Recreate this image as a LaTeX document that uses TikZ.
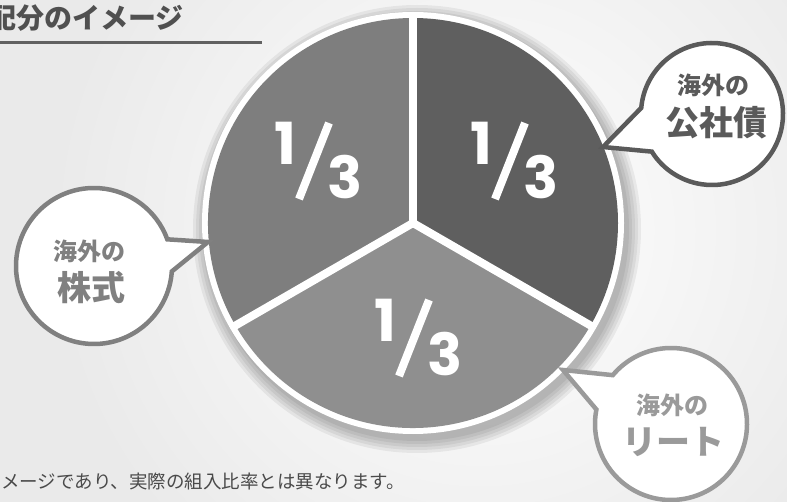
\documentclass[tikz,border=0pt]{standalone}
\usepackage{fontspec}
\usetikzlibrary{calc}
\newfontfamily\jp{Noto Sans CJK JP}
\newfontfamily\numfnt{Poppins}
\definecolor{bgout}{HTML}{EAEAEA}
\definecolor{sliceA}{HTML}{7E7E7E}
\definecolor{sliceB}{HTML}{5F5F5F}
\definecolor{sliceC}{HTML}{8F8F8F}
\definecolor{titlec}{HTML}{505050}
\definecolor{bubA}{HTML}{5A5A5A}
\definecolor{bubB}{HTML}{808080}
\definecolor{bubC}{HTML}{9A9A9A}
\definecolor{notec}{HTML}{4A4A4A}
\tikzset{
  numtxt/.style={text=white, font=\numfnt\bfseries\fontsize{58}{58}\selectfont, inner sep=0pt},
  slashline/.style={white, line width=8pt},
  bubble/.style={fill=white, line width=4.5pt, line join=miter},
  smalljp/.style={font=\jp\bfseries\fontsize{24}{24}\selectfont, inner sep=0pt},
  bigjp/.style={font=\jp\bfseries\fontsize{34}{34}\selectfont, inner sep=0pt},
}
\begin{document}
\begin{tikzpicture}[x=1pt,y=-1pt]
\useasboundingbox (0,0) rectangle (787,502);
% background
\begin{scope}
\clip (0,0) rectangle (787,502);
\fill[bgout] (0,0) rectangle (787,502);
\shade[inner color=white, outer color=bgout] (480,230) circle[radius=430];
\end{scope}
% title
\node[anchor=east, font=\jp\bfseries\fontsize{28}{28}\selectfont, text=titlec, inner sep=0pt] (title) at (184,18) {配分のイメージ};
\coordinate (ulA) at (0,43);
\coordinate (ulB) at (262,43);
\draw[titlec!90, line width=3pt] (ulA) -- (ulB);
% pie
\coordinate (C) at (413,223);
\foreach \r in {224,221,218,215,212}
  \fill[black, opacity=0.06] ($(C)+(4,6)$) circle[radius=\r];
\fill[white] (C) circle[radius=211];
\fill[sliceA] (C) -- ++(150:205) arc[start angle=150, end angle=270, radius=205] -- cycle;
\fill[sliceB] (C) -- ++(270:205) arc[start angle=270, end angle=390, radius=205] -- cycle;
\fill[sliceC] (C) -- ++(30:205) arc[start angle=30, end angle=150, radius=205] -- cycle;
\foreach \a in {270,150,30}
  \draw[white, line width=8pt] (C) -- ++(\a:207);
\fill[white] (C) circle[radius=4];
% fractions
\foreach \n/\cx/\cy in {a/315/160, b/511/160, c/415/337} {
  \node[numtxt] (one\n) at (\cx-30,\cy-17) {1};
  \coordinate (sa\n) at (\cx-16,\cy+39);
  \coordinate (sb\n) at (\cx+14,\cy-37);
  \draw[slashline] (sa\n) -- (sb\n);
  \node[numtxt] (three\n) at (\cx+30,\cy+17) {3};
}
% bubble top right
\coordinate (bA) at (712,114);
\coordinate (tipA) at (603,147);
\draw[bubble, draw=bubA] (tipA) -- ($(bA)+(185:71)$) arc[start angle=185, end angle=508, radius=71] -- cycle;
\node[smalljp, text=bubA] (a1) at (713,85) {海外の};
\node[bigjp, text=bubA] (a2) at (716,123) {公社債};
% bubble left
\coordinate (bB) at (94,266);
\coordinate (tipB) at (208,242);
\draw[bubble, draw=bubB] (tipB) -- ($(bB)+(4:78)$) arc[start angle=4, end angle=340, radius=78] -- cycle;
\node[smalljp, text=bubB] (b1) at (89,251) {海外の};
\node[bigjp, text=bubB] (b2) at (91,288) {株式};
% bubble bottom right
\coordinate (bC) at (671,424);
\coordinate (tipC) at (563,370);
\draw[bubble, draw=bubC] (tipC) -- ($(bC)+(220:76)$) arc[start angle=220, end angle=551, radius=76] -- cycle;
\node[smalljp, text=bubC] (c1) at (672,405) {海外の};
\node[bigjp, text=bubC] (c2) at (673,442) {リート};
% footnote
\node[anchor=west, font=\jp\fontsize{18.5}{18.5}\selectfont, text=notec, inner sep=0pt] (note) at (1,481) {メージであり、実際の組入比率とは異なります。};
\end{tikzpicture}
\end{document}
